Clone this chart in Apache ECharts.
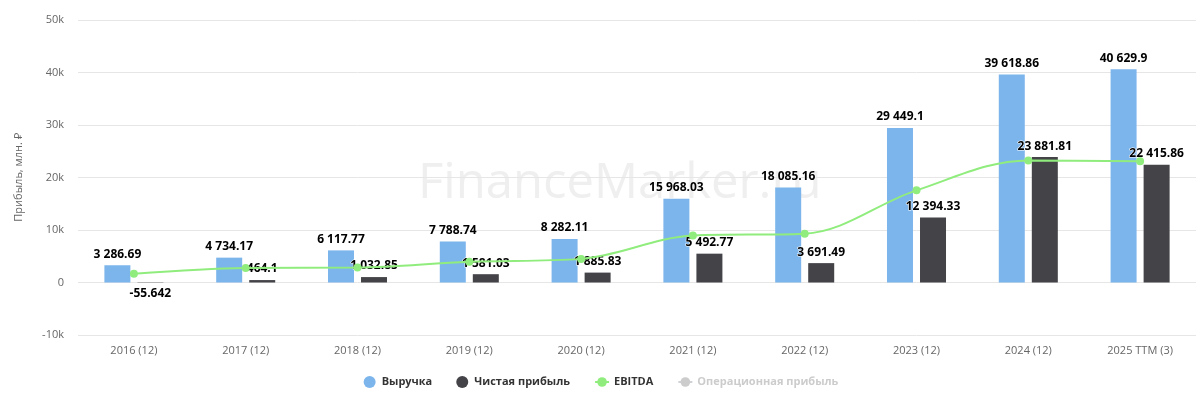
<!DOCTYPE html>
<html>
<head>
<meta charset="utf-8">
<script src="https://cdn.jsdelivr.net/npm/echarts@6/dist/echarts.min.js"></script>
<style>
html,body{margin:0;padding:0;background:#fff;}
#chart{width:1202px;height:396px;}
</style>
</head>
<body>
<div id="chart"></div>
<script>
const categories = ['2016 (12)','2017 (12)','2018 (12)','2019 (12)','2020 (12)','2021 (12)','2022 (12)','2023 (12)','2024 (12)','2025 TTM (3)'];
const revenue = [3286.69, 4734.17, 6117.77, 7788.74, 8282.11, 15968.03, 18085.16, 29449.1, 39618.86, 40629.9];
const netProfit = [-55.642, 464.1, 1032.85, 1581.03, 1885.83, 5492.77, 3691.49, 12394.33, 23881.81, 22415.86];
const ebitda = [1650, 2750, 2850, 3950, 4500, 8940, 9300, 17550, 23250, 23100];
const operatingProfit = [];
const yTicks = {min: -10000, max: 50000, interval: 10000};

function fmt(v){
  const neg = v < 0;
  const s = Math.abs(v).toString();
  const parts = s.split('.');
  let ip = parts[0].replace(/\B(?=(\d{3})+(?!\d))/g, ' ');
  return (neg ? '-' : '') + ip + (parts[1] ? '.' + parts[1] : '');
}
const labelStyle = {show:true, fontFamily:'Open Sans', fontWeight:'bold', fontSize:12, color:'#000', textBorderColor:'#fff', textBorderWidth:1, formatter: p => fmt(p.value)};

const chart = echarts.init(document.getElementById('chart'), null, {renderer:'canvas'});
chart.setOption({
  animation:false,
  backgroundColor:'#fff',
  graphic:[{
    type:'text', left:418, top:160, z:0, silent:true,
    style:{text:'FinanceMarker.ru', fontFamily:'Open Sans', fontSize:49, fill:'#efefef'}
  }],
  grid:{left:78, right:6, top:20, bottom:61, containLabel:false},
  legend:{
    bottom:3, left:'center', itemGap:24, itemWidth:14, itemHeight:12,
    textStyle:{fontFamily:'Open Sans', fontWeight:'bold', fontSize:11, color:'#333'},
    inactiveColor:'#ccc',
    selected:{'Операционная прибыль':false},
    data:[
      {name:'Выручка', icon:'circle'},
      {name:'Чистая прибыль', icon:'circle'},
      {name:'EBITDA'},
      {name:'Операционная прибыль'}
    ]
  },
  xAxis:{
    type:'category', data:categories,
    axisLine:{show:false}, axisTick:{show:false},
    axisLabel:{color:'#666', fontFamily:'Open Sans', fontSize:11, margin:10}
  },
  yAxis:{
    type:'value', min:yTicks.min, max:yTicks.max, interval:yTicks.interval,
    name:'Прибыль, млн. ₽', nameLocation:'middle', nameGap:54,
    nameTextStyle:{color:'#666', fontFamily:'Open Sans', fontSize:11},
    axisLabel:{color:'#666', fontFamily:'Open Sans', fontSize:11, margin:14,
      formatter: v => v === 0 ? '0' : (v/1000) + 'k'},
    splitLine:{lineStyle:{color:'#e6e6e6'}},
    axisLine:{show:false}, axisTick:{show:false}
  },
  series:[
    {name:'Выручка', type:'bar', data:revenue, barWidth:26, barGap:'27%',
     itemStyle:{color:'#7cb5ec'}, label:Object.assign({position:'top', distance:5}, labelStyle)},
    {name:'Чистая прибыль', type:'bar', barWidth:26,
     data:netProfit.map(v => ({value:v, label:{position: v < 0 ? 'bottom' : 'top'}})),
     itemStyle:{color:'#434348'}, label:Object.assign({position:'top', distance:5}, labelStyle)},
    {name:'EBITDA', type:'line', data:ebitda, smooth:0.35, symbol:'circle', symbolSize:8,
     lineStyle:{color:'#90ed7d', width:2}, itemStyle:{color:'#90ed7d'}, z:5},
    {name:'Операционная прибыль', type:'line', data:operatingProfit, symbol:'circle', symbolSize:8,
     lineStyle:{color:'#ccc', width:2}, itemStyle:{color:'#ccc'}}
  ]
});
</script>
</body>
</html>
